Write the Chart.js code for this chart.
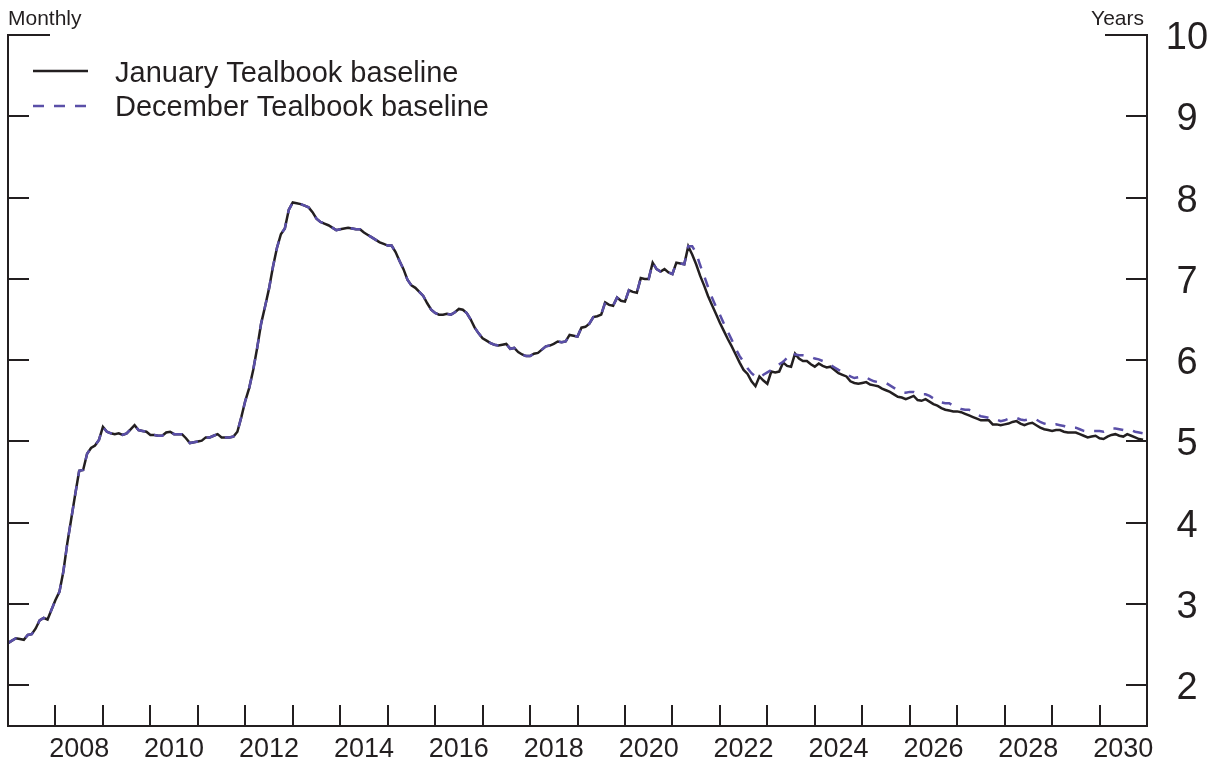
<!DOCTYPE html>
<html>
<head>
<meta charset="utf-8">
<title>Tealbook baseline</title>
<script src="https://cdn.jsdelivr.net/npm/chart.js@4/dist/chart.umd.min.js"></script>
<style>
  html, body { margin: 0; padding: 0; background: #fff; }
  #chart { display: block; }
</style>
</head>
<body>
<canvas id="chart" width="1217" height="765"></canvas>
<script>
// monthly observations, January 2007 onward
var startYear = 2007;

// shared history, Jan 2007 - Apr 2021 (both baselines identical)
var pastValues = [
  2.52, 2.55, 2.58, 2.57, 2.56, 2.62, 2.63, 2.70, 2.80, 2.83, 2.81, 2.93,
  3.05, 3.15, 3.40, 3.75, 4.05, 4.35, 4.64, 4.65, 4.85, 4.92, 4.95, 5.02,
  5.18, 5.12, 5.10, 5.09, 5.10, 5.08, 5.10, 5.15, 5.20, 5.14, 5.13, 5.12,
  5.08, 5.08, 5.07, 5.07, 5.11, 5.12, 5.09, 5.09, 5.09, 5.04, 4.98, 4.99,
  5.00, 5.01, 5.05, 5.05, 5.07, 5.09, 5.05, 5.05, 5.05, 5.06, 5.12, 5.30,
  5.50, 5.66, 5.88, 6.15, 6.45, 6.66, 6.88, 7.15, 7.38, 7.55, 7.62, 7.85,
  7.94, 7.93, 7.92, 7.90, 7.88, 7.82, 7.74, 7.70, 7.68, 7.66, 7.63, 7.60,
  7.61, 7.62, 7.63, 7.62, 7.61, 7.61, 7.57, 7.54, 7.51, 7.48, 7.45, 7.43,
  7.41, 7.41, 7.33, 7.22, 7.12, 6.99, 6.92, 6.89, 6.84, 6.79, 6.70, 6.62,
  6.58, 6.56, 6.56, 6.57, 6.56, 6.59, 6.63, 6.62, 6.58, 6.50, 6.40, 6.33,
  6.27, 6.24, 6.21, 6.19, 6.18, 6.19, 6.20, 6.14, 6.15, 6.10, 6.07, 6.05,
  6.05, 6.08, 6.09, 6.13, 6.17, 6.18, 6.20, 6.23, 6.22, 6.23, 6.31, 6.30,
  6.29, 6.40, 6.41, 6.45, 6.53, 6.54, 6.56, 6.71, 6.68, 6.67, 6.77, 6.73,
  6.72, 6.86, 6.84, 6.83, 7.01, 7.00, 7.00, 7.20, 7.12, 7.09, 7.12, 7.08,
  7.06, 7.20, 7.19, 7.18
];

// May 2021 - Dec 2030
var januaryProj = [
  7.40, 7.30, 7.18, 7.04, 6.92, 6.79, 6.68, 6.57, 6.46, 6.36, 6.26, 6.17,
  6.07, 5.97, 5.88, 5.83, 5.74, 5.68, 5.80, 5.75, 5.71, 5.86, 5.85, 5.86,
  5.97, 5.93, 5.92, 6.08, 6.02, 5.99, 5.99, 5.95, 5.92, 5.96, 5.93, 5.91,
  5.92, 5.88, 5.84, 5.82, 5.80, 5.74, 5.72, 5.71, 5.72, 5.73, 5.70, 5.69,
  5.68, 5.65, 5.63, 5.61, 5.58, 5.55, 5.54, 5.52, 5.54, 5.56, 5.51, 5.50,
  5.52, 5.49, 5.46, 5.44, 5.41, 5.39, 5.38, 5.37, 5.37, 5.36, 5.34, 5.32,
  5.30, 5.28, 5.26, 5.26, 5.26, 5.21, 5.21, 5.20, 5.21, 5.22, 5.24, 5.25,
  5.22, 5.20, 5.22, 5.23, 5.20, 5.17, 5.15, 5.14, 5.13, 5.14, 5.14, 5.12,
  5.11, 5.11, 5.11, 5.09, 5.07, 5.05, 5.06, 5.07, 5.04, 5.03, 5.06, 5.08,
  5.09, 5.07, 5.06, 5.09, 5.07, 5.05, 5.03, 5.02
];

var decemberProj = [
  7.40, 7.40, 7.32, 7.17, 7.04, 6.90, 6.77, 6.66, 6.56, 6.45, 6.35, 6.25,
  6.14, 6.05, 5.98, 5.90, 5.84, 5.80, 5.78, 5.82, 5.85, 5.88, 5.93, 5.95,
  5.98, 6.03, 6.09, 6.07, 6.06, 6.06, 6.05, 6.04, 6.02, 6.01, 5.99, 5.96,
  5.94, 5.91, 5.88, 5.86, 5.83, 5.80, 5.78, 5.79, 5.80, 5.79, 5.76, 5.74,
  5.73, 5.72, 5.72, 5.69, 5.66, 5.63, 5.61, 5.60, 5.61, 5.61, 5.59, 5.58,
  5.58, 5.56, 5.53, 5.50, 5.48, 5.47, 5.47, 5.44, 5.42, 5.40, 5.39, 5.39,
  5.36, 5.33, 5.31, 5.30, 5.29, 5.29, 5.27, 5.25, 5.26, 5.28, 5.29, 5.29,
  5.27, 5.26, 5.27, 5.28, 5.27, 5.24, 5.22, 5.21, 5.20, 5.21, 5.20, 5.19,
  5.17, 5.17, 5.17, 5.15, 5.13, 5.12, 5.13, 5.13, 5.13, 5.12, 5.14, 5.16,
  5.16, 5.15, 5.14, 5.15, 5.14, 5.12, 5.11, 5.10
];

var yTicks = [2, 3, 4, 5, 6, 7, 8, 9];
var yLabels = [2, 3, 4, 5, 6, 7, 8, 9, 10];
var xTickYears = [];
for (var yr = 2008; yr <= 2030; yr++) xTickYears.push(yr);
var xLabels = [2008, 2010, 2012, 2014, 2016, 2018, 2020, 2022, 2024, 2026, 2028, 2030];

var seriesNames = ['January Tealbook baseline', 'December Tealbook baseline'];

var ink = '#231f20';
var blue = '#5a4fa8';
var font = '"Liberation Sans", Arial, Helvetica, sans-serif';

function toPoints(values) {
    return values.map(function (v, i) {
        return { x: startYear + i / 12, y: v };
    });
}

var january = toPoints(pastValues.concat(januaryProj));
var december = toPoints(pastValues.concat(decemberProj));

var decorations = {
    id: 'decorations',
    afterDraw: function (chart) {
        var ctx = chart.ctx;
        var a = chart.chartArea;
        var xs = chart.scales.x, ys = chart.scales.y;
        var L = Math.round(a.left), R = Math.round(a.right);
        var T = Math.round(a.top), B = Math.round(a.bottom);

        ctx.save();
        ctx.strokeStyle = ink;
        ctx.lineWidth = 2;

        // axes: left, bottom, right, with short stubs along the top
        ctx.beginPath();
        ctx.moveTo(L + 42, T);
        ctx.lineTo(L, T);
        ctx.lineTo(L, B);
        ctx.lineTo(R, B);
        ctx.lineTo(R, T);
        ctx.lineTo(R - 42, T);
        ctx.stroke();

        // y ticks on both sides, pointing inward
        ctx.beginPath();
        yTicks.forEach(function (v) {
            var py = Math.round(ys.getPixelForValue(v));
            ctx.moveTo(L, py); ctx.lineTo(L + 21, py);
            ctx.moveTo(R, py); ctx.lineTo(R - 21, py);
        });
        // x ticks at year boundaries
        xTickYears.forEach(function (v) {
            var px = Math.round(xs.getPixelForValue(v));
            ctx.moveTo(px, B); ctx.lineTo(px, B - 21);
        });
        ctx.stroke();

        ctx.fillStyle = ink;
        // x labels centred in their year
        ctx.font = '27px ' + font;
        ctx.textAlign = 'center';
        ctx.textBaseline = 'alphabetic';
        xLabels.forEach(function (v) {
            ctx.fillText(String(v), xs.getPixelForValue(v + 0.5), 757);
        });

        // right-hand value labels
        ctx.font = '38px ' + font;
        yLabels.forEach(function (v) {
            ctx.fillText(String(v), 1187, ys.getPixelForValue(v) + 14);
        });

        // unit captions
        ctx.font = '21px ' + font;
        ctx.textAlign = 'left';
        ctx.fillText('Monthly', 8, 25);
        ctx.textAlign = 'right';
        ctx.fillText('Years', 1144, 25);

        // legend
        ctx.textAlign = 'left';
        ctx.font = '29px ' + font;
        ctx.lineWidth = 2.5;
        ctx.strokeStyle = ink;
        ctx.beginPath();
        ctx.moveTo(33, 71); ctx.lineTo(88, 71);
        ctx.stroke();
        ctx.fillText(seriesNames[0], 115, 82);

        ctx.strokeStyle = blue;
        ctx.setLineDash([11, 10]);
        ctx.beginPath();
        ctx.moveTo(33, 106); ctx.lineTo(88, 106);
        ctx.stroke();
        ctx.setLineDash([]);
        ctx.fillText(seriesNames[1], 115, 116);

        ctx.restore();
    }
};

new Chart(document.getElementById('chart').getContext('2d'), {
    type: 'line',
    data: {
        datasets: [
            {
                label: seriesNames[1],
                data: december,
                borderColor: blue,
                borderWidth: 2.5,
                borderDash: [10, 10],
                pointRadius: 0,
                tension: 0,
                order: 0
            },
            {
                label: seriesNames[0],
                data: january,
                borderColor: ink,
                borderWidth: 2.5,
                pointRadius: 0,
                tension: 0,
                order: 1
            }
        ]
    },
    options: {
        responsive: false,
        animation: false,
        layout: { padding: { left: 8, right: 70, top: 35, bottom: 39 } },
        plugins: {
            legend: { display: false },
            tooltip: { enabled: false }
        },
        scales: {
            x: { type: 'linear', min: 2007, max: 2031, display: false },
            y: { type: 'linear', min: 1.5, max: 10, display: false }
        }
    },
    plugins: [decorations]
});
</script>
</body>
</html>
